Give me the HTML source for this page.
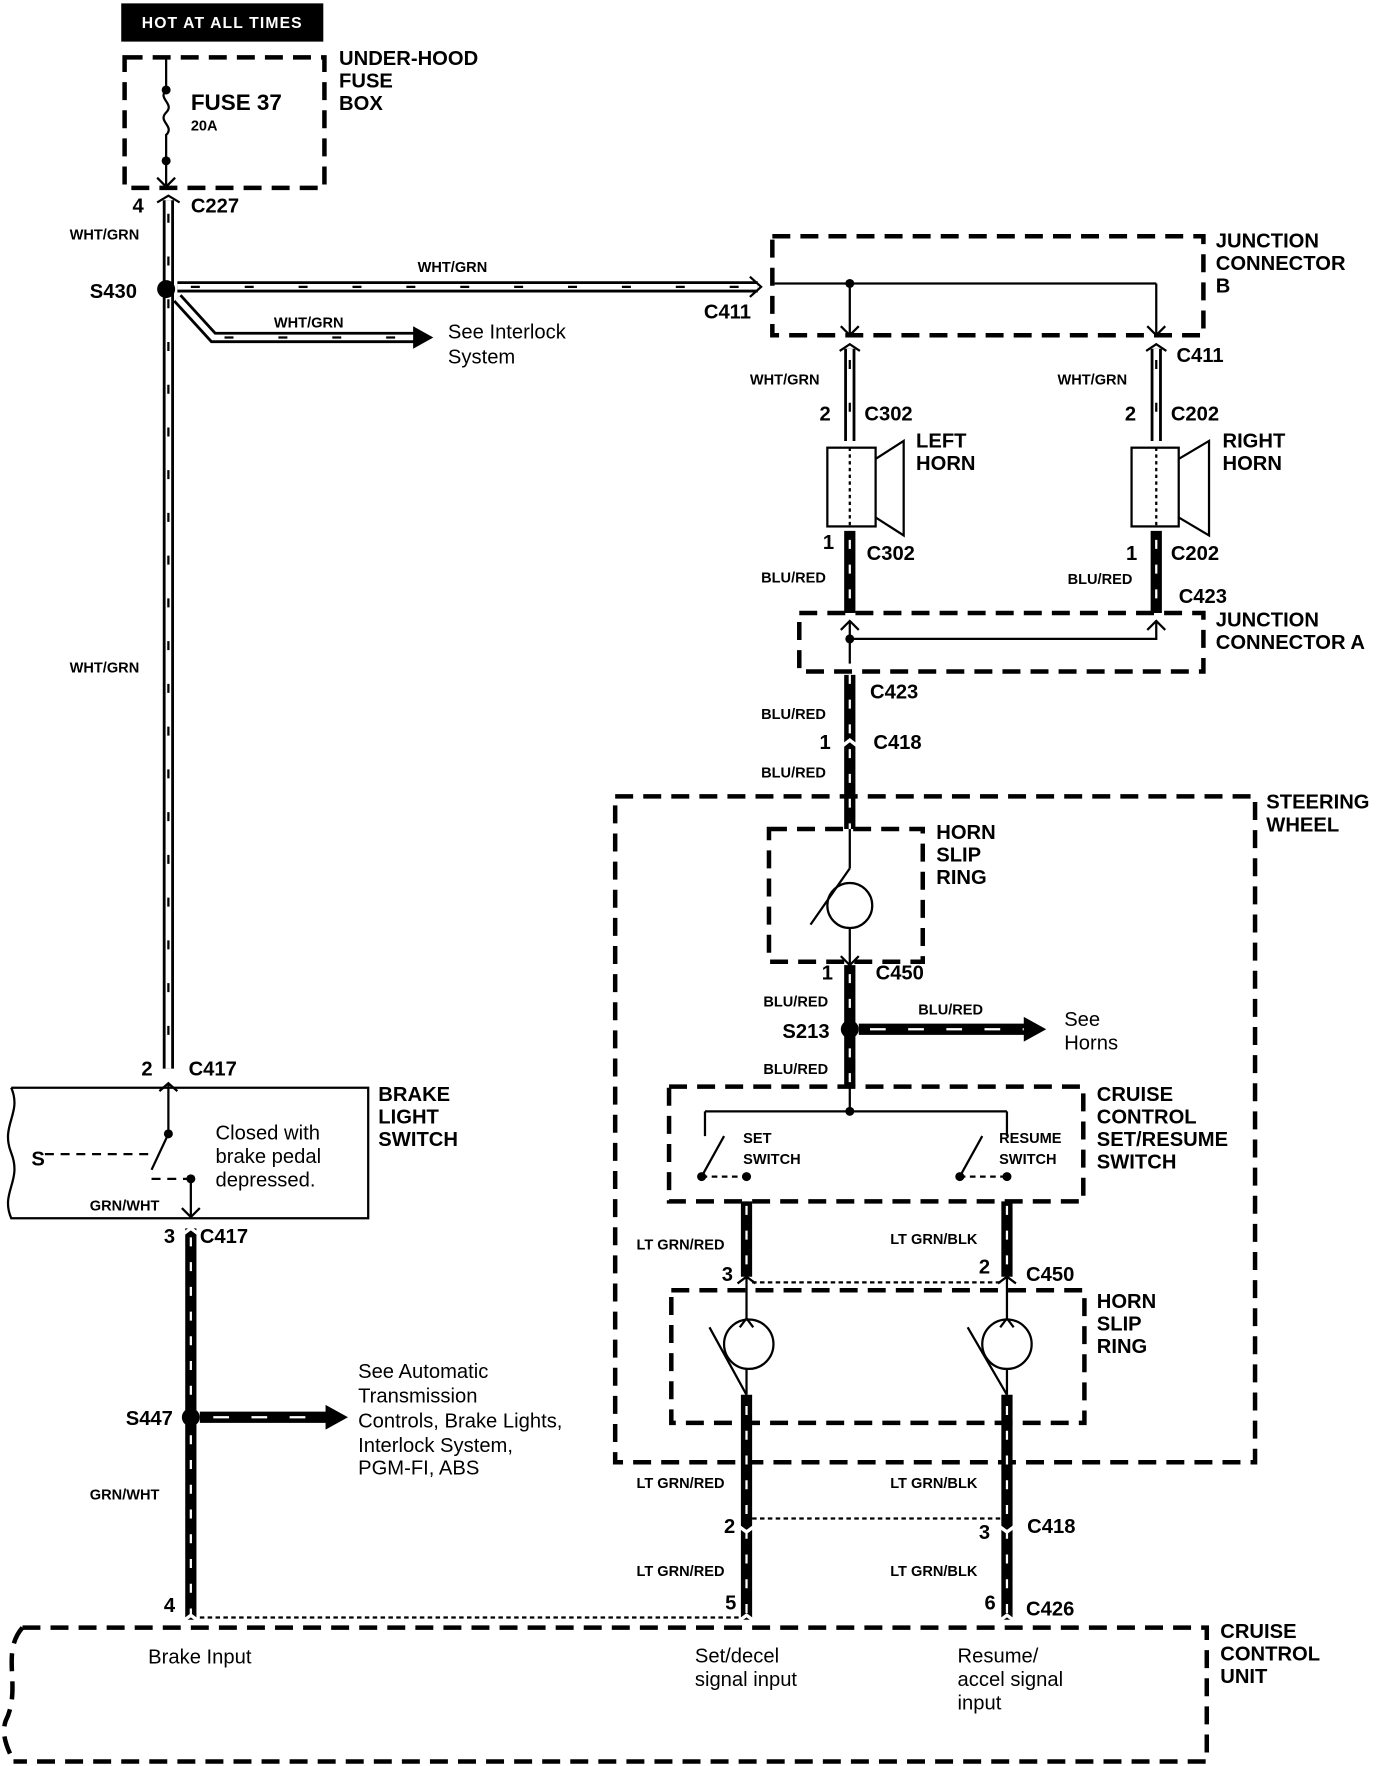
<!DOCTYPE html>
<html><head><meta charset="utf-8"><style>
html,body{margin:0;padding:0;background:#fff}
svg{display:block}
text{font-family:"Liberation Sans",Arial,sans-serif;fill:#000}
.b{font-weight:bold;font-size:18px}
.s{font-weight:bold;font-size:13px}
.n{font-size:18px}
.d{fill:none;stroke:#000;stroke-width:4;stroke-dasharray:16,9}
.t{fill:none;stroke:#000;stroke-width:2}
</style></head><body>
<svg width="1392" height="1766" viewBox="0 0 1240 1570" preserveAspectRatio="none">
<!-- header -->
<rect x="108" y="3" width="180" height="34" fill="#000"/>
<text x="198" y="25" text-anchor="middle" style="fill:#fff;font-weight:bold;font-size:14px;letter-spacing:1px">HOT AT ALL TIMES</text>
<rect x="111" y="51" width="178" height="116" class="d"/>
<text class="b" x="302" y="58">UNDER-HOOD</text><text class="b" x="302" y="78">FUSE</text><text class="b" x="302" y="98">BOX</text>
<!-- fuse -->
<path d="M148,51 V80 c-8,8 8,12 0,20 c-8,8 8,12 0,20 V165" class="t" stroke-width="3"/>
<circle cx="148" cy="80" r="4"/><circle cx="148" cy="143" r="4"/>
<path d="M140,158 L148,166 L156,158" class="t" stroke-width="3"/>
<text x="170" y="98" style="font-weight:bold;font-size:20px">FUSE 37</text><text class="s" x="170" y="116">20A</text>
<path d="M140,180 L150,174 L160,180" class="t" stroke-width="3"/>
<text class="b" x="118" y="189">4</text><text class="b" x="170" y="189">C227</text>
<!-- main white wire -->
<path d="M150,178 V950" stroke="#000" stroke-width="10" fill="none"/>
<path d="M150,178 V950" stroke="#fff" stroke-width="5" fill="none"/>
<path d="M150,190 V950" stroke="#000" stroke-width="2" stroke-dasharray="8,30" fill="none"/>
<text class="s" x="62" y="213">WHT/GRN</text>
<text class="s" x="62" y="598">WHT/GRN</text>
<circle cx="148" cy="257" r="8"/>
<text class="b" x="80" y="265">S430</text>
<path d="M158,255 H675" stroke="#000" stroke-width="10" fill="none"/>
<path d="M158,255 H675" stroke="#fff" stroke-width="5" fill="none"/>
<path d="M170,255 H675" stroke="#000" stroke-width="2" stroke-dasharray="8,40" fill="none"/>
<text class="s" x="372" y="242">WHT/GRN</text>
<path d="M668,246 L678,255 L668,264" class="t" stroke-width="3"/>
<text class="b" x="627" y="283">C411</text>
<path d="M158,265 L190,300 H370" stroke="#000" stroke-width="10" fill="none"/>
<path d="M158,265 L190,300 H370" stroke="#fff" stroke-width="5" fill="none"/>
<path d="M200,300 H370" stroke="#000" stroke-width="2" stroke-dasharray="8,40" fill="none"/>
<path d="M368,290 L386,300 L368,310 z"/>
<text class="s" x="244" y="291">WHT/GRN</text>
<text class="n" x="399" y="301">See Interlock</text><text class="n" x="399" y="323">System</text>
<!-- junction B -->
<rect x="688" y="210" width="384" height="88" class="d"/>
<text class="b" x="1083" y="220">JUNCTION</text><text class="b" x="1083" y="240">CONNECTOR</text><text class="b" x="1083" y="260">B</text>
<path d="M690,252 H1030 M757,252 V298 M1030,252 V298" class="t"/>
<circle cx="757" cy="252" r="4"/>
<path d="M749,290 L757,298 L765,290 M1022,290 L1030,298 L1038,290" class="t"/>
<path d="M757,310 V392 M1030,310 V392" stroke="#000" stroke-width="10" fill="none"/>
<path d="M757,310 V392 M1030,310 V392" stroke="#fff" stroke-width="5" fill="none"/>
<path d="M757,320 V392 M1030,320 V392" stroke="#000" stroke-width="2" stroke-dasharray="8,30" fill="none"/>
<path d="M748,312 L757,306 L766,312 M1021,312 L1030,306 L1039,312" class="t" stroke-width="3"/>
<text class="b" x="1048" y="322">C411</text>
<text class="s" x="668" y="342">WHT/GRN</text><text class="s" x="942" y="342">WHT/GRN</text>
<text class="b" x="730" y="374">2</text><text class="b" x="770" y="374">C302</text>
<text class="b" x="1002" y="374">2</text><text class="b" x="1043" y="374">C202</text>
<!-- horns -->
<g class="t" stroke-width="3">
<rect x="737" y="398" width="43" height="70"/><path d="M780,408 L805,392 V476 L780,460"/>
<rect x="1008" y="398" width="42" height="70"/><path d="M1050,408 L1077,392 V476 L1050,460"/>
<path d="M757,398 V468 M1030,398 V468" stroke-dasharray="3,3"/>
</g>
<text class="b" x="816" y="398">LEFT</text><text class="b" x="816" y="418">HORN</text>
<text class="b" x="1089" y="398">RIGHT</text><text class="b" x="1089" y="418">HORN</text>
<path d="M757,472 V545 M1030,472 V545 M757,600 V737 M757,858 V966" stroke="#000" stroke-width="10" fill="none"/>
<path d="M757,480 V545 M1030,480 V545 M757,600 V737 M757,866 V966" stroke="#fff" stroke-width="2" stroke-dasharray="8,14" fill="none"/>
<text class="b" x="733" y="488">1</text><text class="b" x="772" y="498">C302</text>
<text class="b" x="1003" y="498">1</text><text class="b" x="1043" y="498">C202</text>
<text class="s" x="678" y="518">BLU/RED</text><text class="s" x="951" y="519">BLU/RED</text>
<text class="b" x="1050" y="536">C423</text>
<!-- junction A -->
<rect x="712" y="545" width="360" height="52" class="d"/>
<text class="b" x="1083" y="557">JUNCTION</text><text class="b" x="1083" y="577">CONNECTOR A</text>
<path d="M757,552 V590 M757,568 H1030 V552" class="t"/>
<circle cx="757" cy="568" r="4"/>
<path d="M749,560 L757,552 L765,560 M1022,560 L1030,552 L1038,560" class="t"/>
<text class="b" x="775" y="621">C423</text>
<text class="s" x="678" y="639">BLU/RED</text>
<path d="M748,665 L757,658 L766,665" stroke="#fff" stroke-width="3" fill="none"/>
<text class="b" x="730" y="666">1</text><text class="b" x="778" y="666">C418</text>
<text class="s" x="678" y="691">BLU/RED</text>
<!-- steering wheel -->
<rect x="548" y="708" width="570" height="592" class="d"/>
<text class="b" x="1128" y="719">STEERING</text><text class="b" x="1128" y="739">WHEEL</text>
<rect x="685" y="737" width="137" height="118" class="d"/>
<path d="M757,737 V772 M757,825 V858" stroke="#000" stroke-width="2" fill="none"/>
<circle cx="757" cy="805" r="20" class="t" fill="#fff"/>
<path d="M722,822 L757,772" class="t"/>
<path d="M749,850 L757,858 L765,850" class="t"/>
<text class="b" x="834" y="746">HORN</text><text class="b" x="834" y="766">SLIP</text><text class="b" x="834" y="786">RING</text>
<text class="b" x="732" y="871">1</text><text class="b" x="780" y="871">C450</text>
<text class="s" x="680" y="895">BLU/RED</text>
<circle cx="757" cy="915" r="8"/>
<text class="b" x="697" y="923">S213</text>
<path d="M765,915 H915" stroke="#000" stroke-width="10" fill="none"/>
<path d="M775,915 H915" stroke="#fff" stroke-width="2" stroke-dasharray="14,20" fill="none"/>
<path d="M912,904 L932,915 L912,926 z"/>
<text class="s" x="818" y="902">BLU/RED</text>
<text class="n" x="948" y="912">See</text><text class="n" x="948" y="933">Horns</text>
<text class="s" x="680" y="955">BLU/RED</text>
<!-- cruise switch -->
<rect x="596" y="966" width="369" height="102" class="d"/>
<path d="M757,966 V988 M628,988 H897 M628,988 V1010 M897,988 V1010" class="t"/>
<circle cx="757" cy="988" r="4"/>
<path d="M625,1046 H665 M855,1046 H897" class="t" stroke-dasharray="5,4"/>
<path d="M625,1046 L645,1010 M855,1046 L875,1010" class="t"/>
<circle cx="625" cy="1046" r="4"/><circle cx="665" cy="1046" r="4"/>
<circle cx="855" cy="1046" r="4"/><circle cx="897" cy="1046" r="4"/>
<text class="s" x="662" y="1016">SET</text><text class="s" x="662" y="1035">SWITCH</text>
<text class="s" x="890" y="1016">RESUME</text><text class="s" x="890" y="1035">SWITCH</text>
<text class="b" x="977" y="979">CRUISE</text><text class="b" x="977" y="999">CONTROL</text><text class="b" x="977" y="1019">SET/RESUME</text><text class="b" x="977" y="1039">SWITCH</text>
<path d="M665,1068 V1135 M897,1068 V1135 M665,1240 V1440 M897,1240 V1440" stroke="#000" stroke-width="10" fill="none"/>
<path d="M665,1072 V1135 M897,1072 V1135 M665,1250 V1440 M897,1250 V1440" stroke="#fff" stroke-width="2" stroke-dasharray="8,14" fill="none"/>
<text class="s" x="567" y="1111">LT GRN/RED</text><text class="s" x="793" y="1106">LT GRN/BLK</text>
<text class="b" x="643" y="1139">3</text><text class="b" x="872" y="1132">2</text><text class="b" x="914" y="1139">C450</text>
<path d="M670,1140 H892" class="t" stroke-width="1" stroke-dasharray="4,3"/>
<path d="M657,1141 L665,1135 L673,1141 M889,1141 L897,1135 L905,1141" class="t" stroke-width="3"/>
<!-- slip ring 2 -->
<rect x="598" y="1147" width="368" height="118" class="d"/>
<path d="M665,1135 V1173 M665,1217 V1240 M897,1135 V1173 M897,1217 V1240" class="t"/>
<circle cx="667" cy="1195" r="22" class="t" fill="#fff"/><circle cx="897" cy="1195" r="22" class="t" fill="#fff"/>
<path d="M632,1180 L665,1240 M862,1180 L897,1240" class="t"/>
<path d="M659,1180 L665,1172 L671,1180 M891,1180 L897,1172 L903,1180" class="t"/>
<text class="b" x="977" y="1163">HORN</text><text class="b" x="977" y="1183">SLIP</text><text class="b" x="977" y="1203">RING</text>
<text class="s" x="567" y="1323">LT GRN/RED</text><text class="s" x="793" y="1323">LT GRN/BLK</text>
<text class="b" x="645" y="1363">2</text><text class="b" x="872" y="1368">3</text><text class="b" x="915" y="1363">C418</text>
<path d="M670,1350 H892" class="t" stroke-width="1" stroke-dasharray="4,3"/>
<path d="M657,1356 L665,1362 L673,1356 M889,1356 L897,1362 L905,1356" stroke="#fff" stroke-width="3" fill="none"/>
<text class="s" x="567" y="1401">LT GRN/RED</text><text class="s" x="793" y="1401">LT GRN/BLK</text>
<text class="b" x="646" y="1431">5</text><text class="b" x="877" y="1431">6</text><text class="b" x="914" y="1436">C426</text>
<path d="M657,1442 L665,1436 L673,1442 M889,1442 L897,1436 L905,1442" stroke="#fff" stroke-width="3" fill="none"/>
<!-- brake light switch -->
<path d="M10,967 H328 V1083 H10 C0,1060 20,1050 10,1025 C0,1000 20,990 10,967" class="t" stroke-width="3"/>
<text class="b" x="337" y="979">BRAKE</text><text class="b" x="337" y="999">LIGHT</text><text class="b" x="337" y="1019">SWITCH</text>
<text class="b" x="126" y="956">2</text><text class="b" x="168" y="956">C417</text>
<path d="M142,970 L150,963 L158,970" class="t" stroke-width="3"/>
<path d="M150,963 V1008 M150,1008 L135,1040 M170,1048 V1082" class="t"/>
<path d="M40,1026 H135 M135,1048 H170" class="t" stroke-dasharray="8,6"/>
<circle cx="150" cy="1008" r="4"/><circle cx="170" cy="1048" r="4"/>
<path d="M162,1074 L170,1082 L178,1074" class="t"/>
<text class="b" x="28" y="1036">S</text>
<text class="n" x="192" y="1013">Closed with</text><text class="n" x="192" y="1034">brake pedal</text><text class="n" x="192" y="1055">depressed.</text>
<text class="s" x="80" y="1076">GRN/WHT</text>
<text class="b" x="146" y="1105">3</text><text class="b" x="178" y="1105">C417</text>
<path d="M170,1092 V1440" stroke="#000" stroke-width="10" fill="none"/>
<path d="M170,1100 V1440" stroke="#fff" stroke-width="2" stroke-dasharray="8,14" fill="none"/>
<path d="M162,1098 L170,1092 L178,1098" stroke="#fff" stroke-width="3" fill="none"/>
<circle cx="170" cy="1260" r="8"/>
<text class="b" x="112" y="1267">S447</text>
<path d="M178,1260 H292" stroke="#000" stroke-width="10" fill="none"/>
<path d="M190,1260 H292" stroke="#fff" stroke-width="2" stroke-dasharray="14,20" fill="none"/>
<path d="M290,1249 L310,1260 L290,1271 z"/>
<text class="n" x="319" y="1225">See Automatic</text><text class="n" x="319" y="1247">Transmission</text><text class="n" x="319" y="1269">Controls, Brake Lights,</text><text class="n" x="319" y="1291">Interlock System,</text><text class="n" x="319" y="1311">PGM-FI, ABS</text>
<text class="s" x="80" y="1333">GRN/WHT</text>
<text class="b" x="146" y="1433">4</text>
<path d="M162,1442 L170,1436 L178,1442" stroke="#fff" stroke-width="3" fill="none"/>
<path d="M178,1438 H660" class="t" stroke-width="1" stroke-dasharray="4,3"/>
<!-- cruise control unit -->
<path d="M20,1447 H1075 V1566 H12 M20,1447 C0,1470 20,1500 5,1530 C0,1545 10,1560 12,1566" class="d"/>
<text class="b" x="1087" y="1456">CRUISE</text><text class="b" x="1087" y="1476">CONTROL</text><text class="b" x="1087" y="1496">UNIT</text>
<text class="n" x="132" y="1479">Brake Input</text>
<text class="n" x="619" y="1478">Set/decel</text><text class="n" x="619" y="1499">signal input</text>
<text class="n" x="853" y="1478">Resume/</text><text class="n" x="853" y="1499">accel signal</text><text class="n" x="853" y="1520">input</text>
</svg>
</body></html>
